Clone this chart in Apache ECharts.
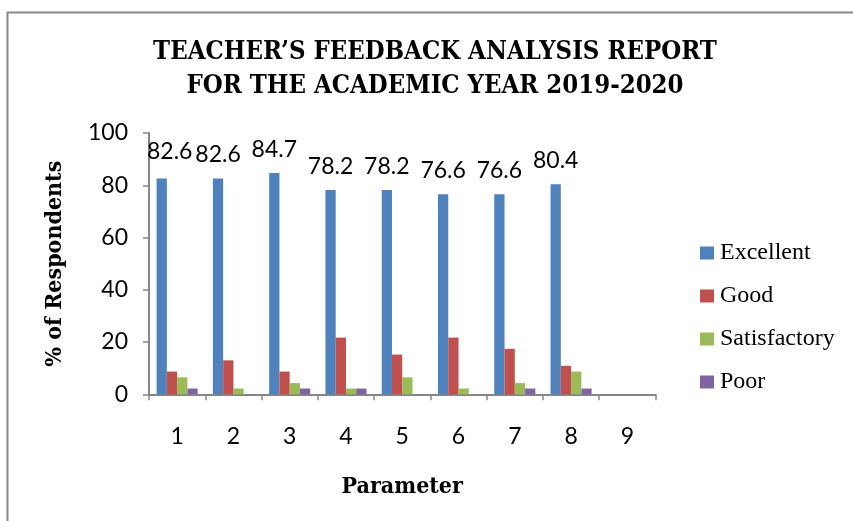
<!DOCTYPE html>
<html>
<head>
<meta charset="utf-8">
<script src="https://cdn.jsdelivr.net/npm/echarts@6/dist/echarts.min.js"></script>
<style>html,body{margin:0;padding:0;background:#fff;}#c{width:853px;height:521px;}</style>
</head>
<body>
<div id="c"></div>
<script>
const categories = ['1','2','3','4','5','6','7','8','9'];
const excellent = [82.6, 82.6, 84.7, 78.2, 78.2, 76.6, 76.6, 80.4, null];
const good = [8.7, 13.0, 8.7, 21.7, 15.2, 21.7, 17.4, 10.9, null];
const satisfactory = [6.5, 2.2, 4.3, 2.2, 6.5, 2.2, 4.3, 8.7, null];
const poor = [2.2, null, 2.2, 2.2, null, null, 2.2, 2.2, null];
const seriesNames = ['Excellent', 'Good', 'Satisfactory', 'Poor'];
const colors = ['#4F81BD', '#C0504D', '#9BBB59', '#8064A2'];

const chart = echarts.init(document.getElementById('c'));
const serifFont = '"DejaVu Serif Condensed", "Liberation Serif", serif';
const sansFont = 'Lato, "Open Sans", sans-serif';

function mk(name, data, i) {
  const s = {
    name: name, type: 'bar', data: data, barGap: '0%', barCategoryGap: '27%',
    itemStyle: { color: colors[i] }
  };
  if (i === 0) {
    s.data = data.map((v, k) => k === 0 ? { value: v, label: { offset: [8, -3] } } : v);
    s.label = {
      show: true, position: 'top', distance: 12, color: '#000',
      fontFamily: sansFont, fontSize: 23,
      formatter: p => p.value == null ? '' : p.value
    };
  }
  return s;
}

chart.setOption({
  animation: false,
  backgroundColor: '#fff',
  title: {
    text: 'TEACHER’S FEEDBACK ANALYSIS REPORT\nFOR THE ACADEMIC YEAR 2019-2020',
    left: 430, top: 30, textAlign: 'center',
    textStyle: { fontFamily: serifFont, fontWeight: 'bold', fontSize: 25.5, lineHeight: 34, color: '#000' }
  },
  legend: {
    orient: 'vertical', left: 695, top: 236, itemGap: 19,
    itemWidth: 14, itemHeight: 13, icon: 'rect',
    textStyle: { fontFamily: '"Liberation Serif", serif', fontSize: 24, color: '#000', padding: [0,0,0,1] },
    data: seriesNames
  },
  grid: { left: 149, right: 197.5, top: 133, bottom: 126.7, containLabel: false },
  xAxis: {
    type: 'category', data: categories,
    name: 'Parameter', nameLocation: 'middle', nameGap: 81,
    nameTextStyle: { fontFamily: serifFont, fontWeight: 'bold', fontSize: 23, color: '#000' },
    axisLine: { lineStyle: { color: '#868686', width: 2 } },
    axisTick: { show: true, length: 6, lineStyle: { color: '#868686', width: 1.5 } },
    axisLabel: { color: '#000', fontFamily: sansFont, fontSize: 23, margin: 31 }
  },
  yAxis: {
    type: 'value', min: 0, max: 100, interval: 20,
    name: '% of Respondents', nameLocation: 'middle', nameGap: 82, nameRotate: 90,
    nameTextStyle: { fontFamily: serifFont, fontWeight: 'bold', fontSize: 23, color: '#000' },
    splitLine: { show: false },
    axisLine: { show: true, lineStyle: { color: '#868686', width: 2 } },
    axisTick: { show: true, length: 6, lineStyle: { color: '#868686', width: 1.5 } },
    axisLabel: { color: '#000', fontFamily: sansFont, fontSize: 23, margin: 21 }
  },
  graphic: [{
    type: 'rect', shape: { x: 7.5, y: 12.5, width: 900, height: 600 },
    style: { fill: 'none', stroke: '#888', lineWidth: 2 }, silent: true, z: -1
  }],
  series: [mk(seriesNames[0], excellent, 0), mk(seriesNames[1], good, 1), mk(seriesNames[2], satisfactory, 2), mk(seriesNames[3], poor, 3)]
});
</script>
</body>
</html>
